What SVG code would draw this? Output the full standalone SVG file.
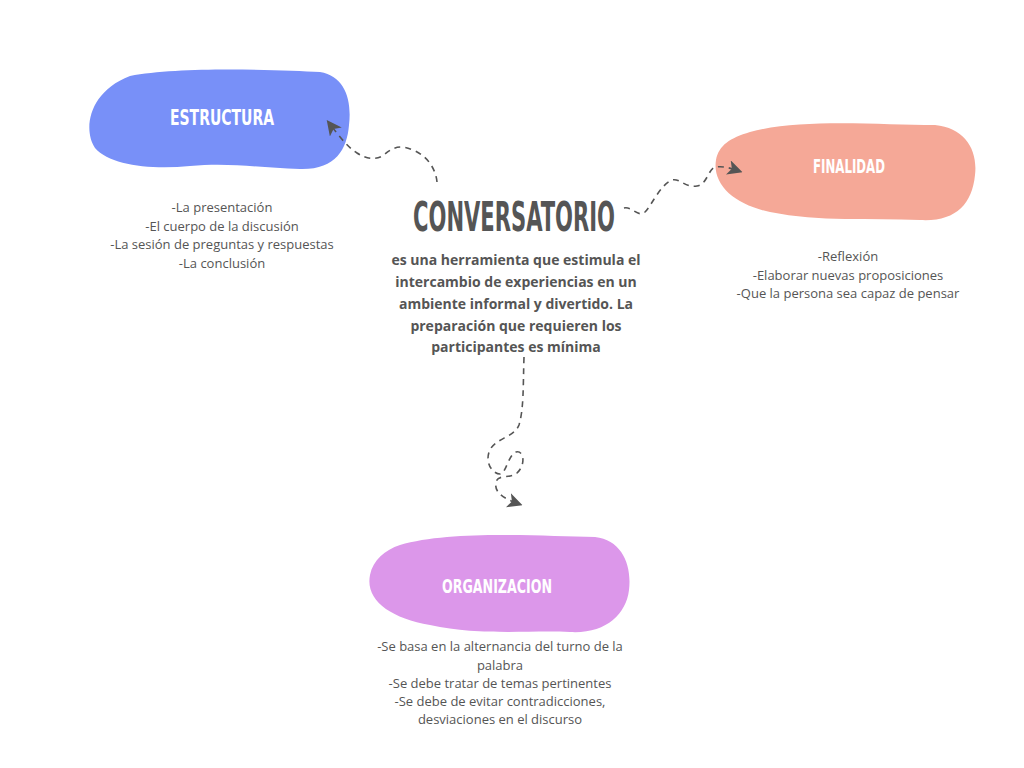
<svg xmlns="http://www.w3.org/2000/svg" width="1024" height="768" viewBox="0 0 1024 768">
<style>
.title{font-family:"DejaVu Sans Condensed","DejaVu Sans",sans-serif;font-weight:bold;fill:#fff;text-anchor:middle}
.main{font-family:"DejaVu Sans Condensed","DejaVu Sans",sans-serif;font-weight:bold;fill:#555;text-anchor:middle}
.list{font-family:"Open Sans","Noto Sans",sans-serif;font-size:13px;fill:#555;text-anchor:middle}
.desc{font-family:"Open Sans","Noto Sans",sans-serif;font-size:14px;font-weight:bold;fill:#555;text-anchor:middle}
.conn{fill:none;stroke:#555;stroke-width:1.6;stroke-dasharray:6 5;marker-end:url(#arr)}
</style>
<defs>
<marker id="arr" viewBox="0 0 12 12" refX="9" refY="6" markerWidth="15" markerHeight="15" markerUnits="userSpaceOnUse" orient="auto">
<path d="M0,0 L12,6 L0,12 L3,6 Z" fill="#555"/>
</marker>
</defs>
<rect width="1024" height="768" fill="#fff"/>
<g id="estructura">
<path d="M130,76 C180,66 280,70 320,72 C345,76 352,100 349,125 C347,150 335,170 300,169 C260,168 230,162 190,166 C150,170 110,165 95,148 C83,130 88,92 130,76 Z" fill="#7890f8"/>
<text class="title" x="222" y="125" font-size="22" textLength="104" lengthAdjust="spacingAndGlyphs">ESTRUCTURA</text>
<text class="list" x="222" y="212">-La presentación</text>
<text class="list" x="222" y="231">-El cuerpo de la discusión</text>
<text class="list" x="222" y="249">-La sesión de preguntas y respuestas</text>
<text class="list" x="222" y="268">-La conclusión</text>
</g>
<g id="finalidad">
<path d="M750,132 C800,118 880,125 935,125 C965,128 978,150 975,175 C972,205 955,222 920,220 C870,218 820,222 770,212 C735,205 712,185 716,160 C719,145 730,138 750,132 Z" fill="#f5a897"/>
<text class="title" x="849" y="173" font-size="20" textLength="72" lengthAdjust="spacingAndGlyphs">FINALIDAD</text>
<text class="list" x="848" y="261">-Reflexión</text>
<text class="list" x="848" y="280">-Elaborar nuevas proposiciones</text>
<text class="list" x="848" y="298">-Que la persona sea capaz de pensar</text>
</g>
<g id="conversatorio">
<text class="main" x="514" y="231" font-size="40" textLength="202" lengthAdjust="spacingAndGlyphs">CONVERSATORIO</text>
<text class="desc" x="516" y="265">es una herramienta que estimula el</text>
<text class="desc" x="516" y="287">intercambio de experiencias en un</text>
<text class="desc" x="516" y="309">ambiente informal y divertido. La</text>
<text class="desc" x="516" y="331">preparación que requieren los</text>
<text class="desc" x="516" y="352">participantes es mínima</text>
</g>
<g id="organizacion">
<path d="M400,545 C450,530 540,536 595,537 C622,540 632,565 629,590 C626,615 605,634 570,632 C530,630 480,636 430,625 C390,618 365,600 370,575 C373,560 385,550 400,545 Z" fill="#dc97ea"/>
<text class="title" x="497" y="593" font-size="20" textLength="110" lengthAdjust="spacingAndGlyphs">ORGANIZACION</text>
<text class="list" x="500" y="651">-Se basa en la alternancia del turno de la</text>
<text class="list" x="500" y="670">palabra</text>
<text class="list" x="500" y="688">-Se debe tratar de temas pertinentes</text>
<text class="list" x="500" y="706">-Se debe de evitar contradicciones,</text>
<text class="list" x="500" y="724">desviaciones en el discurso</text>
</g>
<g id="connectors">
<path class="conn" d="M437,182 C436,170 428,156 413,150 C400,144 392,148 385,154 C378,160 368,160 357,153 C348,147 342,140 329,123"/>
<path class="conn" d="M624,208 C632,206 638,218 645,212 C652,205 660,185 672,180 C680,178 685,188 697,186 C708,184 708,168 716,167 C724,166 730,168 739,171"/>
<path class="conn" d="M524,357 C523,385 524,408 519,425 C514,438 494,438 489,452 C485,465 494,474 500,474 C506,474 508,455 516,452 C524,450 526,465 517,473 C510,479 498,474 496,482 C494,492 502,498 519,504"/>
</g>
</svg>
